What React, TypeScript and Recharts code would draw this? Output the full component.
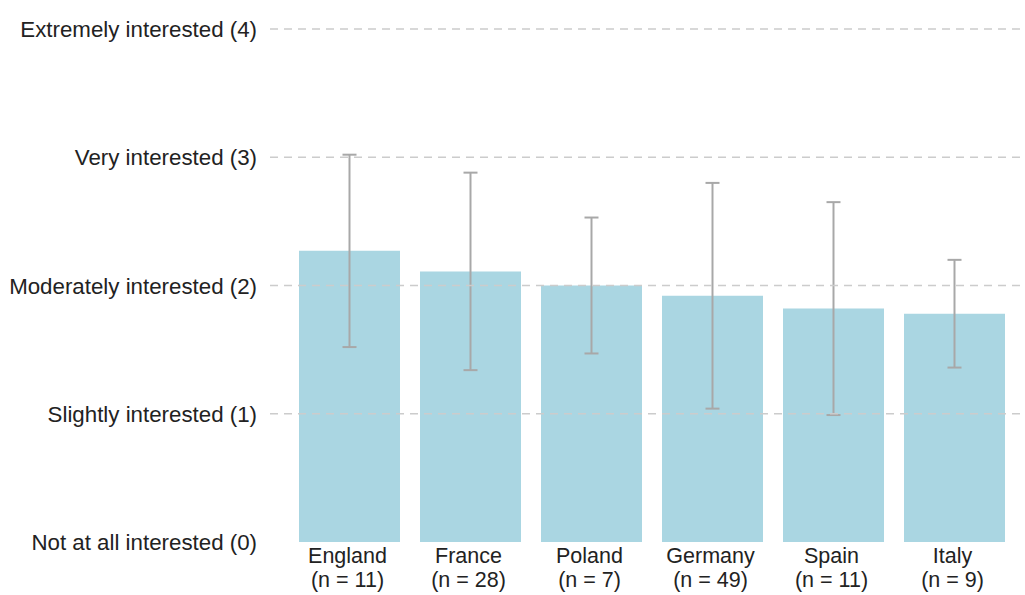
import React from 'react';
import { BarChart, Bar, XAxis, YAxis, ErrorBar, ReferenceLine } from 'recharts';

const countries = ['England', 'France', 'Poland', 'Germany', 'Spain', 'Italy'];
const sampleSizes = [11, 28, 7, 49, 11, 9];
const means = [2.27, 2.11, 2.0, 1.92, 1.82, 1.78];
const sds = [0.75, 0.77, 0.53, 0.88, 0.83, 0.42];
const yTickValues = [0, 1, 2, 3, 4];
const yTickLabels = [
  'Not at all interested (0)',
  'Slightly interested (1)',
  'Moderately interested (2)',
  'Very interested (3)',
  'Extremely interested (4)',
];
const gridValues = [1, 2, 3, 4];

const data = countries.map((c, i) => ({
  country: c,
  n: sampleSizes[i],
  mean: means[i],
  sd: sds[i],
}));

const FONT = '"Liberation Sans", Arial, sans-serif';

const XTick = (props: any) => {
  const { x, y, payload, index } = props;
  const n = sampleSizes[index] ?? data.find((d) => d.country === payload.value)?.n;
  return (
    <g transform={`translate(${x},${y})`}>
      <text textAnchor="middle" fontFamily={FONT} fontSize={21.5} fill="#222">
        <tspan x={-2} y={13}>{payload.value}</tspan>
        <tspan x={-2} y={37}>{`(n = ${n})`}</tspan>
      </text>
    </g>
  );
};

const YTick = (props: any) => {
  const { x, y, payload } = props;
  const idx = yTickValues.indexOf(payload.value);
  return (
    <text x={x} y={y} dy="0.36em" textAnchor="end" fontFamily={FONT} fontSize={22.3} fill="#222">
      {yTickLabels[idx]}
    </text>
  );
};

export default function App() {
  return (
    <div style={{ position: 'absolute', left: 0, top: 0, background: '#fff' }}>
      <BarChart
        width={1025}
        height={595}
        data={data}
        margin={{ top: 29, right: 5, left: 0, bottom: 0 }}
        barCategoryGap={10}
      >
        <XAxis
          dataKey="country"
          axisLine={false}
          tickLine={false}
          height={53}
          padding={{ left: 19, right: 5 }}
          interval={0}
          tick={<XTick />}
        />
        <YAxis
          domain={[0, 4]}
          ticks={yTickValues}
          axisLine={false}
          tickLine={false}
          width={270}
          tickSize={6}
          tickMargin={7}
          interval={0}
          tick={<YTick />}
        />
        <Bar dataKey="mean" fill="#aad6e2" isAnimationActive={false}>
          <ErrorBar dataKey="sd" width={7} stroke="#a8a8a8" strokeWidth={2} direction="y" />
        </Bar>
        {gridValues.map((v) => (
          <ReferenceLine key={v} y={v} stroke="#cccccc" strokeWidth={1.5} strokeDasharray="8 6" />
        ))}
      </BarChart>
    </div>
  );
}
